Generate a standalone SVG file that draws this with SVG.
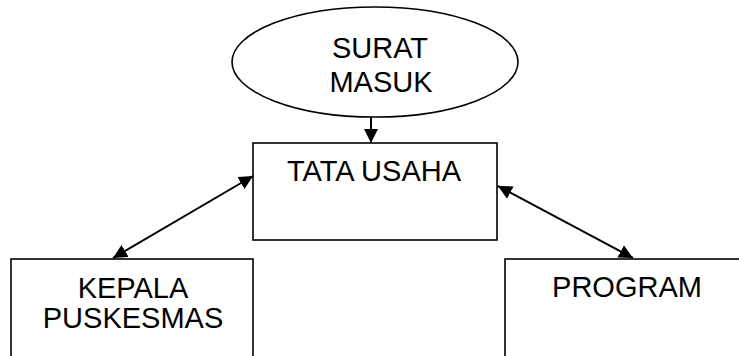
<svg xmlns="http://www.w3.org/2000/svg" width="739" height="356" viewBox="0 0 739 356">
  <style>
    .shape { fill: #ffffff; stroke: #000000; stroke-width: 1.6; }
    .label { font-family: "Liberation Sans", Arial, sans-serif; font-size: 29px; fill: #000000; text-anchor: middle; }
    .link { stroke: #000000; stroke-width: 2; fill: none; }
  </style>
  <defs>
    <marker id="head" viewBox="0 0 14 14" refX="14" refY="7" markerWidth="14" markerHeight="14" markerUnits="userSpaceOnUse" orient="auto-start-reverse">
      <path d="M0,0 L14,7 L0,14 Z" fill="#000000"/>
    </marker>
  </defs>
  <rect width="739" height="356" fill="#ffffff"/>

  <g id="surat-masuk">
    <ellipse class="shape" cx="375" cy="62" rx="143" ry="55"/>
    <text class="label" x="380" y="58">SURAT</text>
    <text class="label" x="381" y="92">MASUK</text>
  </g>

  <g id="tata-usaha">
    <rect class="shape" x="253" y="143" width="244" height="97"/>
    <text class="label" x="374" y="181">TATA USAHA</text>
  </g>

  <g id="kepala-puskesmas">
    <rect class="shape" x="11" y="259" width="242" height="110"/>
    <text class="label" x="133" y="298">KEPALA</text>
    <text class="label" x="133" y="328">PUSKESMAS</text>
  </g>

  <g id="program">
    <rect class="shape" x="505" y="259" width="250" height="110"/>
    <text class="label" x="627" y="297">PROGRAM</text>
  </g>

  <g id="connectors">
    <line class="link" x1="371" y1="117" x2="371" y2="143" marker-end="url(#head)"/>
    <line class="link" x1="113" y1="258" x2="253" y2="176" marker-start="url(#head)" marker-end="url(#head)"/>
    <line class="link" x1="498" y1="186" x2="633" y2="258" marker-start="url(#head)" marker-end="url(#head)"/>
  </g>
</svg>
